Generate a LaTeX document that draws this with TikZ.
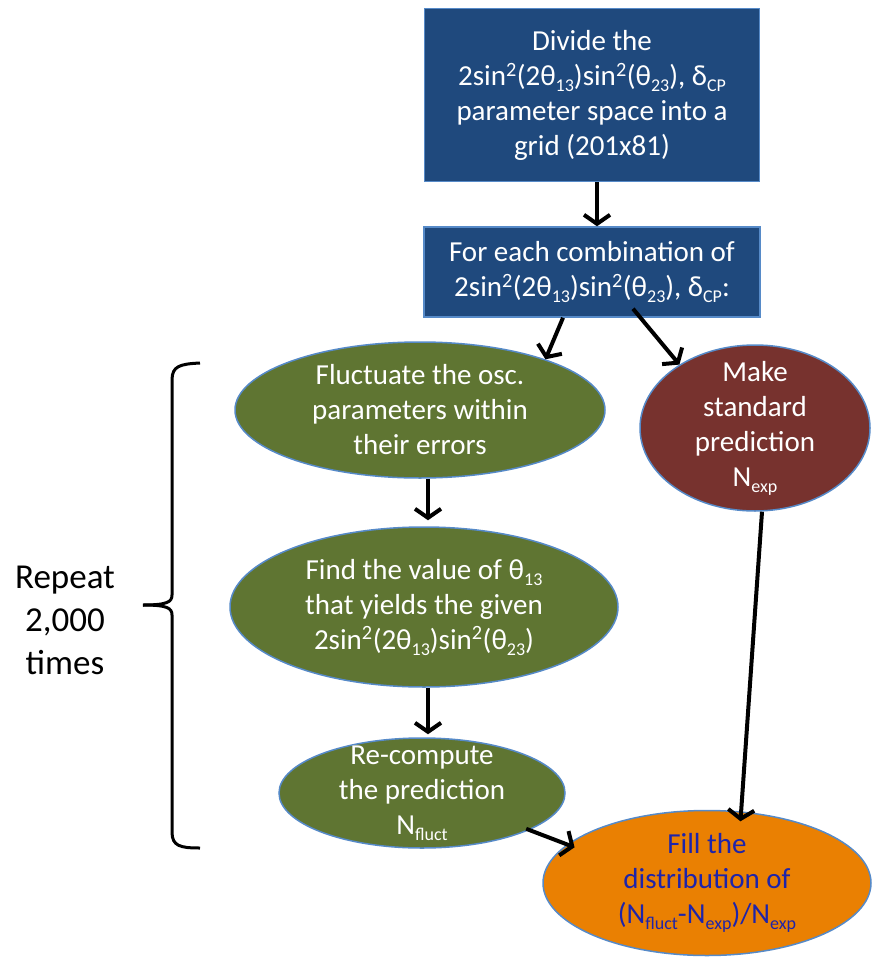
\documentclass[tikz,border=0pt]{standalone}
\usepackage{fontspec}
\setmainfont{Carlito}
\usetikzlibrary{arrows.meta,shapes.geometric}

\definecolor{boxblue}{RGB}{31,73,125}
\definecolor{edgeblue}{RGB}{86,138,200}
\definecolor{olive}{RGB}{95,117,50}
\definecolor{wine}{RGB}{119,50,46}
\definecolor{amber}{RGB}{234,128,2}
\definecolor{inkblue}{RGB}{30,36,170}

% low subscripts, as the slides set them
\newcommand{\lo}[1]{\raisebox{-6pt}{\fontsize{18}{18}\selectfont #1}}
\newcommand{\sinsq}{2sin\textsuperscript{2}(2θ\lo{13})sin\textsuperscript{2}(θ\lo{23})}

\tikzset{
	stepbox/.style={rectangle, draw=edgeblue, line width=1.5pt, fill=boxblue, text=white, align=center, inner sep=0pt},
	blob/.style={ellipse, draw=edgeblue, line width=1.5pt, align=center, inner sep=-40pt},
	flow/.style={line width=4pt, -{Straight Barb[length=9pt,width=26pt]}}
}

\begin{document}
\begin{tikzpicture}[x=1pt, y=-1pt, font=\fontsize{29}{35}\selectfont]
	\useasboundingbox (0,0) rectangle (871,961);
	
	% the two steps at the top
	\node[stepbox, minimum width=335pt, minimum height=173pt] (grid) at (592,95)
		{Divide the\\ \sinsq, δ\lo{CP}\\ parameter space into a\\ grid (201x81)};
	\node[stepbox, minimum width=336pt, minimum height=90pt] (combo) at (592,272)
		{For each combination of\\ \sinsq, δ\lo{CP}:};
	
	% loop body
	\node[blob, fill=olive, text=white, minimum width=370pt, minimum height=136pt] (fluct) at (420,410)
		{Fluctuate the osc.\\ parameters within\\ their errors};
	\node[blob, fill=olive, text=white, minimum width=388pt, minimum height=160pt] (theta) at (424,607)
		{Find the value of θ\lo{13}\\ that yields the given\\ \sinsq};
	\node[blob, fill=olive, text=white, minimum width=286pt, minimum height=110pt] (recomp) at (422,793)
		{Re-compute\\ the prediction\\ N\lo{fluct}};
	
	\node[blob, fill=wine, text=white, minimum width=230pt, minimum height=166pt] (predict) at (755,428)
		{Make\\ standard\\ prediction\\ N\lo{exp}};
	\node[blob, fill=amber, text=inkblue, minimum width=328pt, minimum height=145pt] (fill) at (707,883)
		{Fill the\\ distribution of\\ (N\lo{fluct}-N\lo{exp})/N\lo{exp}};
	
	% arrows
	\draw[flow] ([xshift=5pt]grid.south) -- ([xshift=5pt]combo.north);
	\draw[flow] ([xshift=-29pt]combo.south) -- (fluct.22);
	\draw[flow] ([xshift=41pt,yshift=9pt]combo.south) -- (predict.140);
	\draw[flow, shorten >=6pt] ([xshift=8pt]fluct.south) -- ([xshift=4pt]theta.north);
	\draw[flow, shorten >=3pt] ([xshift=4pt]theta.south) -- ([xshift=6pt]recomp.north);
	\draw[flow] ([xshift=-6pt]recomp.-18) -- ([xshift=6pt,yshift=-4pt]fill.164);
	\draw[flow] ([xshift=7pt]predict.south) -- ([yshift=-10pt]fill.65);
	
	% repeat bracket
	\coordinate (bracetop) at (200,363);
	\coordinate (braceend) at (200,848);
	\coordinate (bracetip) at (143,605);
	\draw[line width=3pt] (bracetop) .. controls (180,364) and (172,366) .. (172,380) -- (172,595)
		.. controls (172,602) and (167,605) .. (bracetip);
	\draw[line width=3pt] (braceend) .. controls (180,848) and (172,846) .. (172,832) -- (172,615)
		.. controls (172,608) and (167,605) .. (bracetip);
	\node[align=center, font=\fontsize{35}{43}\selectfont] (repeat) at (65,620) {Repeat\\ 2,000\\ times};
\end{tikzpicture}
\end{document}
